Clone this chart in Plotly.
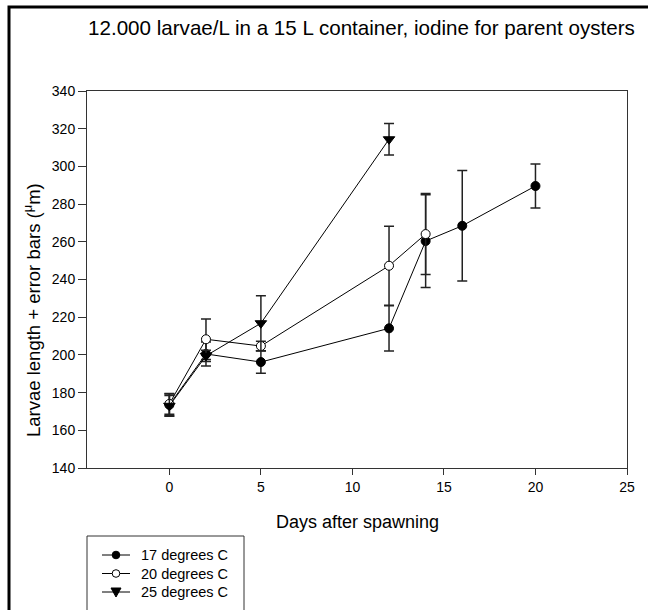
import plotly.graph_objects as go

# ---- data ----
days17 = [0, 2, 5, 12, 14, 16, 20]
len17 = [173.5, 200.5, 196.2, 214.1, 260.4, 268.5, 289.6]
err17 = [5.8, 6.4, 6.0, 12.0, 24.6, 29.3, 11.7]

days20 = [0, 2, 5, 12, 14]
len20 = [174.0, 208.3, 204.7, 247.3, 264.1]
err20 = [5.5, 10.8, 2.5, 21.0, 21.5]

days25 = [0, 2, 5, 12]
len25 = [173.0, 199.5, 216.8, 314.4]
err25 = [5.5, 3.0, 14.6, 8.3]

series_names = ["17 degrees C", "20 degrees C", "25 degrees C"]
x_ticks = [0, 5, 10, 15, 20, 25]
y_ticks = [140, 160, 180, 200, 220, 240, 260, 280, 300, 320, 340]

title_text = "12.000 larvae/L in a 15 L container, iodine for parent oysters"
x_title = "Days after spawning"
y_title = "Larvae length + error bars (<sup>μ</sup>m)"

FONT = "Liberation Sans, Arial, sans-serif"

# pixel geometry of the plot area
W, H = 648, 610
L, R, T, B = 87, 627, 91, 468
pw, ph = R - L, B - T


def px_x(x):
    return (x - L) / pw


def px_y(y):
    return (B - y) / ph


def eb(arr):
    return dict(type="data", array=arr, color="#222222", thickness=1.5, width=5)


fig = go.Figure()
fig.add_trace(go.Scatter(
    x=days17, y=len17, name=series_names[0], mode="lines+markers",
    line=dict(color="black", width=1),
    marker=dict(symbol="circle", size=9, color="black", line=dict(color="black", width=1)),
    error_y=eb(err17),
))
fig.add_trace(go.Scatter(
    x=days20, y=len20, name=series_names[1], mode="lines+markers",
    line=dict(color="black", width=1),
    marker=dict(symbol="circle", size=9, color="white", line=dict(color="black", width=1)),
    error_y=eb(err20),
))
fig.add_trace(go.Scatter(
    x=days25, y=len25, name=series_names[2], mode="lines+markers",
    line=dict(color="black", width=1),
    marker=dict(symbol="triangle-down", size=10, color="black", line=dict(color="black", width=1)),
    error_y=eb(err25),
))

axis_common = dict(
    showgrid=False, zeroline=False, showline=True, mirror=True,
    linecolor="#333333", linewidth=1, ticks="outside", tickcolor="#333333",
    tickfont=dict(family=FONT, size=14, color="black"),
)

# ---- manual legend (box runs off the bottom edge like the reference) ----
leg_box = (87, 536, 244, 640)
leg_rows = [555, 573.5, 592]
leg_line = (102, 130)
leg_mark_x = 116
leg_text_x = 139

shapes = [
    dict(type="rect", xref="paper", yref="paper",
         x0=px_x(9), x1=px_x(670), y0=px_y(650), y1=px_y(7),
         line=dict(color="black", width=3), fillcolor="rgba(0,0,0,0)", layer="above"),
    dict(type="rect", xref="paper", yref="paper",
         x0=px_x(leg_box[0]), x1=px_x(leg_box[2]), y0=px_y(leg_box[3]), y1=px_y(leg_box[1]),
         line=dict(color="#333333", width=1), fillcolor="white"),
]
annotations = [
    dict(text=title_text, xref="paper", yref="paper", x=px_x(361), y=px_y(27),
         xanchor="center", yanchor="middle", showarrow=False,
         font=dict(family=FONT, size=20.6, color="black")),
    dict(text=x_title, xref="paper", yref="paper", x=px_x(357), y=px_y(522),
         xanchor="center", yanchor="middle", showarrow=False,
         font=dict(family=FONT, size=18, color="black")),
    dict(text=y_title, xref="paper", yref="paper", x=px_x(32), y=px_y(310),
         xanchor="center", yanchor="middle", showarrow=False, textangle=-90,
         font=dict(family=FONT, size=18.5, color="black")),
]

r = 3.8
for i, (yy, name) in enumerate(zip(leg_rows, series_names)):
    shapes.append(dict(type="line", xref="paper", yref="paper",
                       x0=px_x(leg_line[0]), x1=px_x(leg_line[1]), y0=px_y(yy), y1=px_y(yy),
                       line=dict(color="black", width=1)))
    if i < 2:
        shapes.append(dict(type="circle", xref="paper", yref="paper",
                           x0=px_x(leg_mark_x - r), x1=px_x(leg_mark_x + r),
                           y0=px_y(yy + r), y1=px_y(yy - r),
                           fillcolor="black" if i == 0 else "white",
                           line=dict(color="black", width=1)))
    else:
        p = [(leg_mark_x - 5, yy - 4), (leg_mark_x + 5, yy - 4), (leg_mark_x, yy + 5)]
        path = "M {} {} L {} {} L {} {} Z".format(
            px_x(p[0][0]), px_y(p[0][1]), px_x(p[1][0]), px_y(p[1][1]),
            px_x(p[2][0]), px_y(p[2][1]))
        shapes.append(dict(type="path", xref="paper", yref="paper", path=path,
                           fillcolor="black", line=dict(color="black", width=1)))
    annotations.append(dict(text=name, xref="paper", yref="paper",
                            x=px_x(leg_text_x), y=px_y(yy), xanchor="left", yanchor="middle",
                            showarrow=False, font=dict(family=FONT, size=14.5, color="black")))

fig.update_layout(
    width=W, height=H,
    margin=dict(l=L, r=W - R, t=T, b=H - B, pad=0),
    paper_bgcolor="white", plot_bgcolor="white",
    font=dict(family=FONT, color="black"),
    xaxis=dict(range=[-4.5, 25], tickvals=x_ticks, ticklen=6, **axis_common),
    yaxis=dict(range=[140, 340], tickvals=y_ticks, ticklen=8, **axis_common),
    showlegend=False,
    annotations=annotations,
    shapes=shapes,
)

fig.write_html("out.html")
